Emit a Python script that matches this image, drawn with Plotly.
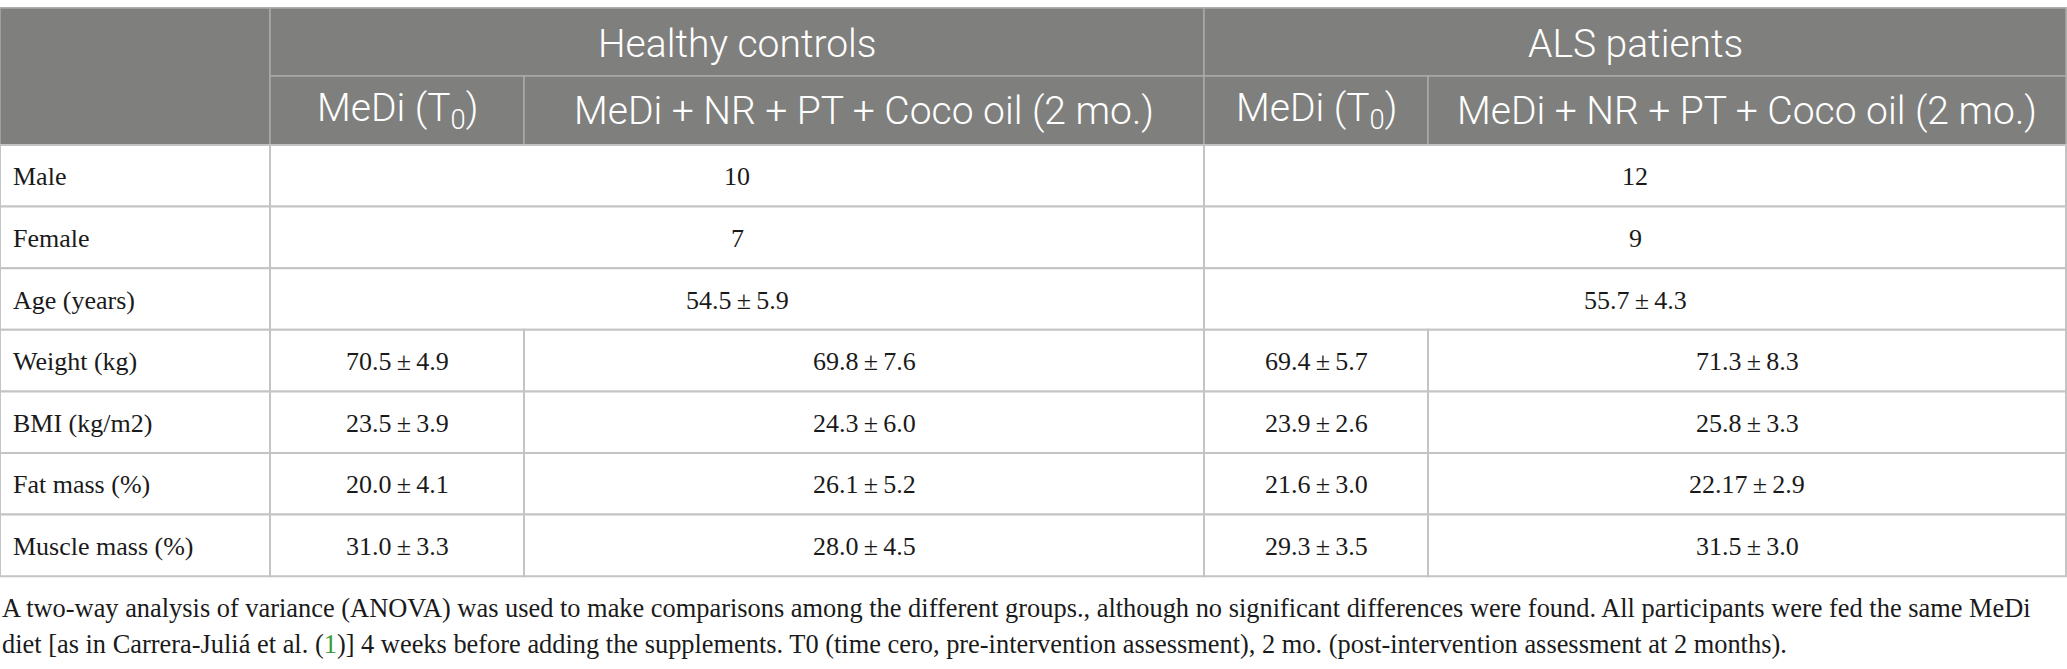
import plotly.graph_objects as go

# table content
group_labels = ["Healthy controls", "ALS patients"]
sub_labels = ["MeDi (T<sub>0</sub>)", "MeDi + NR + PT + Coco oil (2 mo.)"]
row_labels = [
    "Male",
    "Female",
    "Age (years)",
    "Weight (kg)",
    "BMI (kg/m2)",
    "Fat mass (%)",
    "Muscle mass (%)",
]
# rows where one value covers both time points of a group
hc_shared = ["10", "7", "54.5\u2009±\u20095.9"]
als_shared = ["12", "9", "55.7\u2009±\u20094.3"]
# rows split by time point
hc_t0 = ["70.5\u2009±\u20094.9", "23.5\u2009±\u20093.9", "20.0\u2009±\u20094.1", "31.0\u2009±\u20093.3"]
hc_2mo = ["69.8\u2009±\u20097.6", "24.3\u2009±\u20096.0", "26.1\u2009±\u20095.2", "28.0\u2009±\u20094.5"]
als_t0 = ["69.4\u2009±\u20095.7", "23.9\u2009±\u20092.6", "21.6\u2009±\u20093.0", "29.3\u2009±\u20093.5"]
als_2mo = ["71.3\u2009±\u20098.3", "25.8\u2009±\u20093.3", "22.17\u2009±\u20092.9", "31.5\u2009±\u20093.0"]

footnote_lines = [
    "A two-way analysis of variance (ANOVA) was used to make comparisons among the different "
    "groups., although no significant differences were found. All participants were fed the same MeDi",
    "diet [as in Carrera-Juliá et al. (<span style='color:#3c9a3c'>1</span>)] 4 weeks before adding "
    "the supplements. T0 (time cero, pre-intervention assessment), 2 mo. (post-intervention "
    "assessment at 2 months).",
]

# geometry of the page (pixels)
W, H = 2067, 669
col_edges = [0, 270, 524, 1204, 1428, 2066]
head_top, head_mid, head_bot = 8, 76, 145
row_h = 61.6
foot_y = [608, 644]

HEAD_BG = "#7f807e"
HEAD_LINE = "#a9aaa8"
GRID = "#c4c4c4"
TEXT = "#1a1a1a"
sans = "Roboto"
serif = "Liberation Serif"

fig = go.Figure()
shapes = []
annotations = []


def rect(x0, x1, y0, y1, fill, line_color, width=1.5):
    shapes.append(
        dict(
            type="rect", xref="x", yref="y", x0=x0, x1=x1, y0=y0, y1=y1,
            fillcolor=fill, line=dict(color=line_color, width=width), layer="below",
        )
    )


def text(x, y, s, size, color=TEXT, family=serif, xanchor="center", weight=None):
    f = dict(size=size, color=color, family=family)
    if weight:
        f["weight"] = weight
    annotations.append(
        dict(
            x=x, y=y, xref="x", yref="y", text=s, showarrow=False,
            xanchor=xanchor, yanchor="middle", font=f,
        )
    )


def mid(a, b):
    return (a + b) / 2


# header background and cells
rect(col_edges[0], col_edges[-1], head_top, head_bot, HEAD_BG, HEAD_LINE)
rect(col_edges[0], col_edges[1], head_top, head_bot, HEAD_BG, HEAD_LINE)
for g, label in enumerate(group_labels):
    x0, x1 = col_edges[1 + 2 * g], col_edges[3 + 2 * g]
    rect(x0, x1, head_top, head_mid, HEAD_BG, HEAD_LINE)
    text(mid(x0, x1), mid(head_top, head_mid) + 2, label, 39, "white", sans, weight=300)
    for k, sub in enumerate(sub_labels):
        sx0, sx1 = col_edges[1 + 2 * g + k], col_edges[2 + 2 * g + k]
        rect(sx0, sx1, head_mid, head_bot, HEAD_BG, HEAD_LINE)
        text(mid(sx0, sx1), mid(head_mid, head_bot), sub, 39, "white", sans, weight=300)

# body rows
n_shared = len(hc_shared)
split_cols = [hc_t0, hc_2mo, als_t0, als_2mo]
for i, label in enumerate(row_labels):
    y0 = head_bot + i * row_h
    y1 = y0 + row_h
    yc = mid(y0, y1) + 1
    rect(col_edges[0], col_edges[1], y0, y1, "white", GRID, 2)
    text(11, yc, label, 26, xanchor="left")
    if i < n_shared:
        for g, vals in enumerate([hc_shared, als_shared]):
            x0, x1 = col_edges[1 + 2 * g], col_edges[3 + 2 * g]
            rect(x0, x1, y0, y1, "white", GRID, 2)
            text(mid(x0, x1), yc, vals[i], 26)
    else:
        for c, vals in enumerate(split_cols):
            x0, x1 = col_edges[1 + c], col_edges[2 + c]
            rect(x0, x1, y0, y1, "white", GRID, 2)
            text(mid(x0, x1), yc, vals[i - n_shared], 26)

for line, y in zip(footnote_lines, foot_y):
    text(0, y, line, 26.4, xanchor="left")

# invisible trace so the axes exist
fig.add_trace(
    go.Scatter(x=[0, W], y=[0, H], mode="markers", marker=dict(opacity=0), hoverinfo="skip")
)

fig.update_layout(
    width=W,
    height=H,
    margin=dict(l=0, r=0, t=0, b=0),
    paper_bgcolor="white",
    plot_bgcolor="white",
    showlegend=False,
    shapes=shapes,
    annotations=annotations,
    xaxis=dict(range=[0, W], visible=False, fixedrange=True),
    yaxis=dict(range=[H, 0], visible=False, fixedrange=True),
)

# drop the browser's default body margin so the table sits at the page edge
fig.write_html(
    "out.html",
    config={"displayModeBar": False},
    post_script="document.body.style.margin='0';",
)
